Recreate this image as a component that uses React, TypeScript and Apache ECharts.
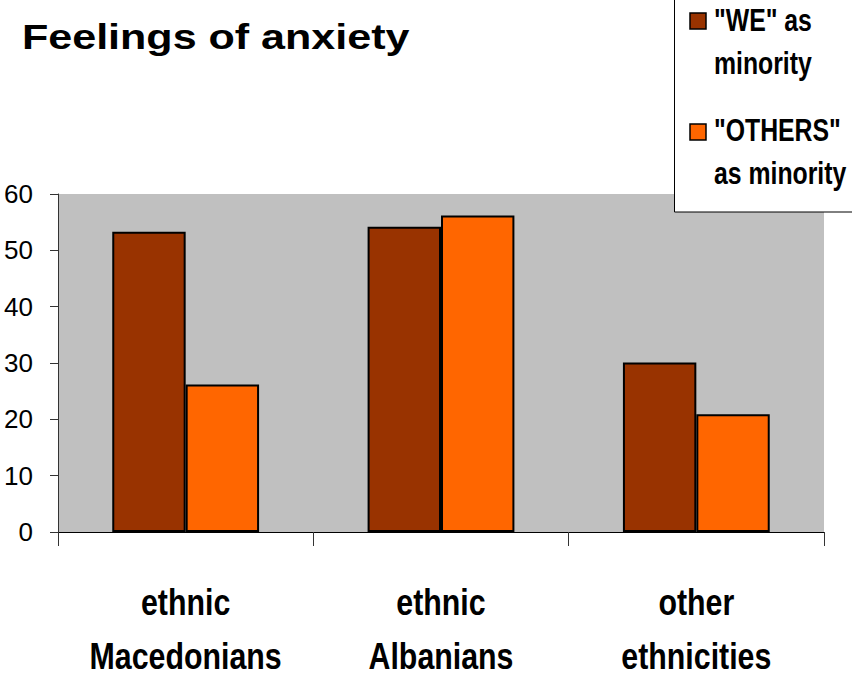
import React, { useEffect, useRef } from "react";
import * as echarts from "echarts";

const categories = ["ethnic\nMacedonians", "ethnic\nAlbanians", "other\nethnicities"];
const weAsMinority = [53.3, 54.2, 30.1];
const othersAsMinority = [26.2, 56.2, 20.9];
const yTicks = { min: 0, max: 60, interval: 10 };
const seriesNames = ['"WE" as\nminority', '"OTHERS"\nas minority'];
const seriesColors = ["#993300", "#FF6600"];

const SANS = "'Liberation Sans', Arial, Helvetica, sans-serif";
// Liberation Sans squeezed horizontally stands in for a narrow face
const NARROW_SCALE = 0.82;

export default function App() {
  const ref = useRef<HTMLDivElement>(null);

  useEffect(() => {
    if (!ref.current) return;
    const chart = echarts.init(ref.current, null, { renderer: "svg" });

    const legendItems: any[] = [];
    const markerY = [13, 124];
    const textMid = [42.5, 152.5];
    seriesNames.forEach((name, i) => {
      legendItems.push({
        type: "rect",
        shape: { x: 690, y: markerY[i], width: 16, height: 16 },
        style: { fill: seriesColors[i], stroke: "#000", lineWidth: 1.5 },
        z: 101,
      });
      legendItems.push({
        type: "text",
        x: 714,
        y: textMid[i],
        scaleX: 0.8,
        style: {
          text: name,
          font: `bold 31px ${SANS}`,
          fill: "#000",
          lineHeight: 43,
          verticalAlign: "middle",
          align: "left",
        },
        z: 101,
      });
    });

    const staticGraphics = [
      {
        type: "text",
        x: 22,
        y: 36.5,
        scaleX: 1.23,
        style: {
          text: "Feelings of anxiety",
          font: `bold 35px ${SANS}`,
          fill: "#000",
          verticalAlign: "middle",
          align: "left",
        },
        z: 100,
      },
      {
        type: "rect",
        shape: { x: 674.5, y: -2, width: 200, height: 214 },
        style: { fill: "#fff", stroke: "#000", lineWidth: 1 },
        z: 100,
      },
      ...legendItems,
    ];

    chart.setOption({
      animation: false,
      backgroundColor: "#ffffff",
      grid: {
        left: 58,
        right: 28,
        top: 194,
        bottom: 143,
        show: true,
        backgroundColor: "#C0C0C0",
        borderWidth: 0,
        outerBoundsMode: "none",
        containLabel: false,
      },
      xAxis: {
        type: "category",
        data: categories,
        axisLine: { show: true, lineStyle: { color: "#000", width: 1 } },
        axisTick: { show: true, length: 14, lineStyle: { color: "#333" } },
        axisLabel: { show: false },
        splitLine: { show: false },
      },
      yAxis: {
        type: "value",
        min: yTicks.min,
        max: yTicks.max,
        interval: yTicks.interval,
        axisLine: { show: true, lineStyle: { color: "#333", width: 1 } },
        axisTick: { show: true, length: 8, lineStyle: { color: "#333" } },
        axisLabel: {
          color: "#000",
          fontFamily: SANS,
          fontSize: 26,
          margin: 25,
        },
        splitLine: { show: false },
      },
      series: [
        {
          name: seriesNames[0],
          type: "bar",
          data: weAsMinority,
          barGap: "0%",
          barCategoryGap: "42.5%",
          itemStyle: { color: seriesColors[0], borderColor: "#000", borderWidth: 2 },
        },
        {
          name: seriesNames[1],
          type: "bar",
          data: othersAsMinority,
          barGap: "0%",
          barCategoryGap: "42.5%",
          itemStyle: { color: seriesColors[1], borderColor: "#000", borderWidth: 2 },
        },
      ],
      graphic: staticGraphics,
    });

    // Category labels placed at the x-axis positions the chart computes
    const axisY = chart.convertToPixel({ yAxisIndex: 0 }, 0) as number;
    const categoryLabels = categories.map((cat, i) => ({
      type: "text",
      x: chart.convertToPixel({ xAxisIndex: 0 }, i) as number,
      y: axisY + 97,
      scaleX: NARROW_SCALE,
      style: {
        text: cat,
        font: `bold 37px ${SANS}`,
        fill: "#000",
        lineHeight: 54,
        align: "center",
        verticalAlign: "middle",
      },
      z: 100,
    }));

    chart.setOption({ graphic: [...staticGraphics, ...categoryLabels] });

    return () => chart.dispose();
  }, []);

  return (
    <div
      ref={ref}
      style={{ position: "fixed", left: 0, top: 0, width: 852, height: 675 }}
    />
  );
}
